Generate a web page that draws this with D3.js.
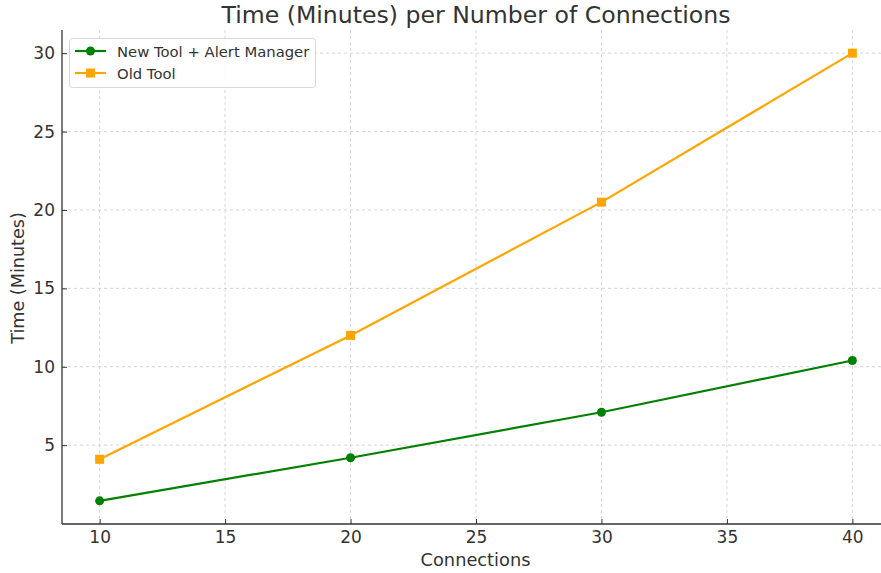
<!DOCTYPE html>
<html><head><meta charset="utf-8">
<script src="https://cdn.jsdelivr.net/npm/d3@7"></script>
<style>body{margin:0;background:#fff}svg{display:block}</style>
</head><body>
<script>
const connections = [10, 20, 30, 40];
const newToolTimes = [1.45, 4.2, 7.1, 10.4];
const oldToolTimes = [4.1, 12.0, 20.5, 30.0];
const xTicks = [10, 15, 20, 25, 30, 35, 40];
const yTicks = [5, 10, 15, 20, 25, 30];
const seriesNames = ["New Tool + Alert Manager", "Old Tool"];

const W = 881, H = 573;
const m = {left: 62, top: 30, right: 890, bottom: 524};
const font = "DejaVu Sans, sans-serif";
const txt = "#333";

const svg = d3.select("body").append("svg").attr("width", W).attr("height", H)
  .style("font-family", font);

const x = d3.scaleLinear().domain([8.5, 41.5]).range([m.left, m.right]);
const y = d3.scaleLinear().domain([-0.0275, 31.4775]).range([m.bottom, m.top]);

// grid
const g = svg.append("g");
g.selectAll(".vg").data(xTicks).join("line")
  .attr("x1", d => x(d)).attr("x2", d => x(d)).attr("y1", m.top).attr("y2", m.bottom)
  .attr("stroke", "#cccccc").attr("stroke-width", 0.8).attr("stroke-dasharray", "3,3");
g.selectAll(".hg").data(yTicks).join("line")
  .attr("y1", d => y(d)).attr("y2", d => y(d)).attr("x1", m.left).attr("x2", m.right)
  .attr("stroke", "#cccccc").attr("stroke-width", 0.8).attr("stroke-dasharray", "3,3");

// axes
const xAxis = d3.axisBottom(x).tickValues(xTicks).tickSize(-5).tickPadding(7).tickFormat(d3.format("d"));
const yAxis = d3.axisLeft(y).tickValues(yTicks).tickSize(-5).tickPadding(7).tickFormat(d3.format("d"));
const xa = svg.append("g").attr("transform", `translate(0,${m.bottom})`).call(xAxis);
const ya = svg.append("g").attr("transform", `translate(${m.left},0)`).call(yAxis);
[xa, ya].forEach(a => {
  a.select(".domain").remove();
  a.selectAll(".tick line").attr("stroke", txt).attr("stroke-width", 1);
  a.selectAll(".tick text").attr("fill", txt).style("font-size", "17px").style("font-family", font);
});
// spines
svg.append("line").attr("x1", m.left).attr("x2", m.left).attr("y1", m.top).attr("y2", m.bottom)
  .attr("stroke", txt).attr("stroke-width", 1.3);
svg.append("line").attr("x1", m.left).attr("x2", W).attr("y1", m.bottom).attr("y2", m.bottom)
  .attr("stroke", txt).attr("stroke-width", 1.3);

// lines
const colors = ["#008000", "#FFA500"];
const data = [newToolTimes, oldToolTimes];
const line = d3.line().x((d, i) => x(connections[i])).y(d => y(d));
data.forEach((vals, k) => {
  svg.append("path").datum(vals).attr("d", line).attr("fill", "none")
    .attr("stroke", colors[k]).attr("stroke-width", 2.2);
  if (k === 0) {
    svg.selectAll(null).data(vals).join("circle")
      .attr("cx", (d, i) => x(connections[i])).attr("cy", d => y(d)).attr("r", 4.5)
      .attr("fill", colors[k]);
  } else {
    svg.selectAll(null).data(vals).join("rect")
      .attr("x", (d, i) => x(connections[i]) - 4.5).attr("y", d => y(d) - 4.5)
      .attr("width", 9).attr("height", 9).attr("fill", colors[k]);
  }
});

// title & labels
svg.append("text").attr("x", 476).attr("y", 23).attr("text-anchor", "middle")
  .attr("fill", txt).style("font-size", "23.6px").text("Time (Minutes) per Number of Connections");
svg.append("text").attr("x", 475.5).attr("y", 566).attr("text-anchor", "middle")
  .attr("fill", txt).style("font-size", "17.8px").text("Connections");
svg.append("text").attr("transform", "translate(24,278) rotate(-90)").attr("text-anchor", "middle")
  .attr("fill", txt).style("font-size", "17.6px").text("Time (Minutes)");

// legend
const lg = svg.append("g");
lg.append("rect").attr("x", 69.5).attr("y", 38.5).attr("width", 246).attr("height", 49)
  .attr("rx", 3).attr("fill", "#fff").attr("fill-opacity", 0.85).attr("stroke", "#d8d8d8");
seriesNames.forEach((name, k) => {
  const yy = 51 + k * 22;
  lg.append("line").attr("x1", 75).attr("x2", 106).attr("y1", yy).attr("y2", yy)
    .attr("stroke", colors[k]).attr("stroke-width", 2.2);
  if (k === 0) lg.append("circle").attr("cx", 90.5).attr("cy", yy).attr("r", 4.5).attr("fill", colors[k]);
  else lg.append("rect").attr("x", 86).attr("y", yy - 4.5).attr("width", 9).attr("height", 9).attr("fill", colors[k]);
  lg.append("text").attr("x", 117).attr("y", yy + 5.5).attr("fill", txt)
    .style("font-size", "14.8px").text(name);
});
</script>
</body></html>
